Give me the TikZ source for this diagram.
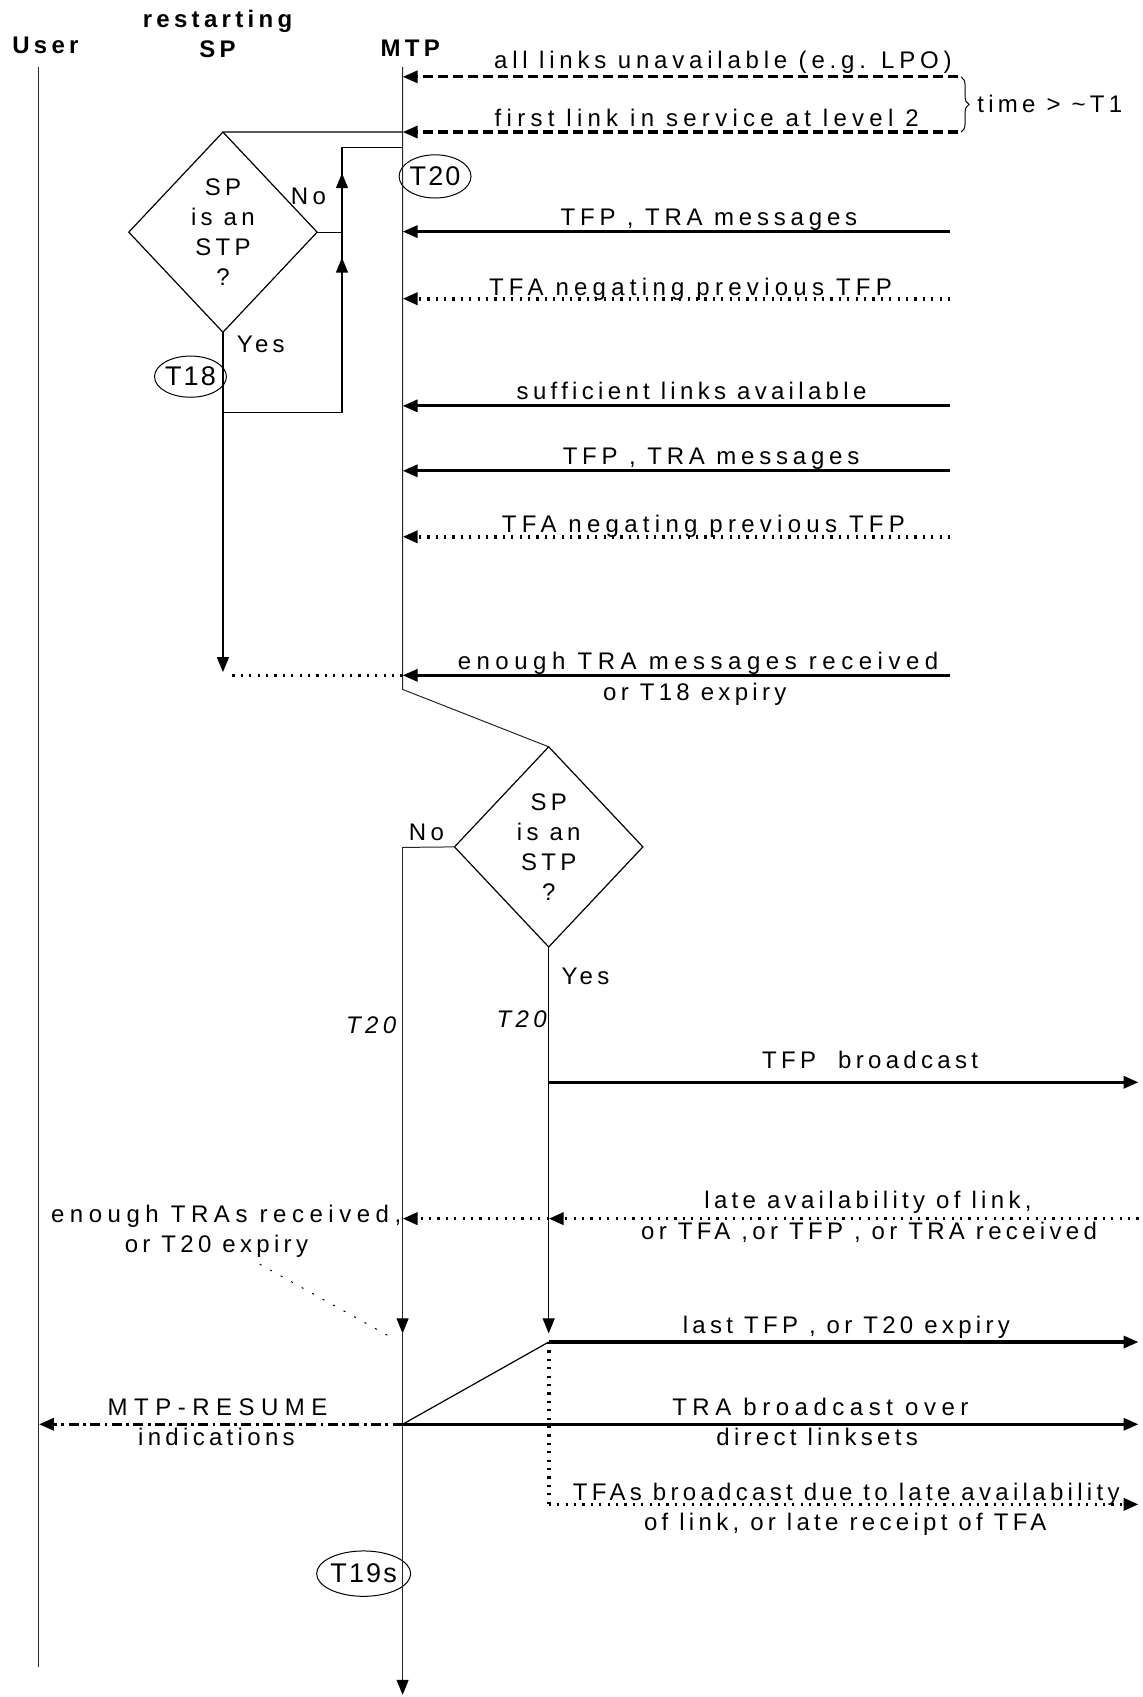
\documentclass[tikz,border=0pt]{standalone}
\usepackage{fontspec}
\setmainfont{Liberation Sans}[LetterSpace=18]
\newfontfamily\lsa{Liberation Sans}[LetterSpace=20]
\newfontfamily\lsb{Liberation Sans}[LetterSpace=22]
\newfontfamily\lsc{Liberation Sans}[LetterSpace=23]
\newfontfamily\lsd{Liberation Sans}[LetterSpace=27]
\newfontfamily\lse{Liberation Sans}[LetterSpace=8]
\usetikzlibrary{arrows.meta,shapes.geometric,decorations.pathreplacing}
\begin{document}
\begin{tikzpicture}[x=0.5412pt,y=-0.5412pt,
  every node/.style={font=\fontsize{12}{15}\selectfont, inner sep=0pt, outer sep=0pt},
  life/.style={line width=0.5pt, draw=black!85},
  thinln/.style={line width=0.6pt},
  msg/.style={line width=1.6pt},
  tip/.style={-{Triangle[length=7.5pt,width=6pt,color=black]}},
  dots/.style={line width=1.8pt, dash pattern=on 1.1pt off 3.1pt},
  dashes/.style={line width=1.6pt, dash pattern=on 5pt off 2.5pt},
  dashdot/.style={line width=1.6pt, dash pattern=on 5pt off 2.2pt on 1.4pt off 2.2pt},
  lbl/.style={anchor=base},
  hdr/.style={anchor=base, font=\fontsize{12}{14}\selectfont\bfseries},
  dec/.style={diamond, draw, line width=0.6pt, minimum width=94.2pt, minimum height=100.1pt, align=center, font=\fontsize{12}{15}\selectfont},
  tmr/.style={ellipse, draw, line width=0.5pt, font=\fontsize{13.5}{15}\lse}
]
\useasboundingbox (0,0) rectangle (1056,1568);

% headers
\node[hdr] (hUser) at (42,49) {User};
\node[hdr] (hRes) at (201,25) {restarting};
\node[hdr] (hSP) at (201,53) {SP};
\node[hdr] (hMTP) at (379,52) {MTP};

% coordinates on lifelines
\coordinate (uTop) at (36,62);
\coordinate (uBot) at (36,1540);
\coordinate (mTop) at (372,62);
\coordinate (m1) at (372,71);
\coordinate (m2) at (372,122);
\coordinate (mLoop) at (372,136);
\coordinate (m3) at (372,214);
\coordinate (m4) at (372,276);
\coordinate (m5) at (372,375);
\coordinate (m6) at (372,435);
\coordinate (m7) at (372,496);
\coordinate (m8) at (372,624);
\coordinate (mBend) at (372,637);
\coordinate (mNo) at (372,783);
\coordinate (mL) at (372,1126);
\coordinate (mArr) at (372,1232);
\coordinate (mR) at (372,1316);
\coordinate (mEnd) at (372,1566);
\coordinate (uR) at (36,1316);

\coordinate (r1) at (885,71);
\coordinate (r2) at (885,122);
\coordinate (r3) at (878,214);
\coordinate (r4) at (878,276);
\coordinate (r5) at (878,375);
\coordinate (r6) at (878,435);
\coordinate (r7) at (878,496);
\coordinate (r8) at (878,624);

% decision nodes
\node[dec] (d1) at (206,214.5) {SP\\is an\\STP\\?};
\node[dec] (d2) at (507,782.5) {SP\\is an\\STP\\?};

% timers
\node[tmr, minimum width=32.5pt, minimum height=21.6pt] (t20) at (402,163) {T20};
\node[tmr, minimum width=34.6pt, minimum height=20.6pt] (t18) at (176,348) {T18};
\node[tmr, minimum width=37.9pt, minimum height=22.7pt] (t19) at (336,1454) {T19s};

% lifelines
\draw[life] (uTop) -- (uBot);
\draw[life] (mTop) -- (mBend) -- (d2.north);
\draw[life] (d2.west) -- (mNo);
\draw[life,tip] (mNo) -- (mArr);
\draw[life,tip] (mArr) -- (mEnd);

% top messages
\draw[dashes,tip] (r1) -- (m1);
\draw[dashes,tip] (r2) -- (m2);
\node[lbl, font=\fontsize{12}{15}\lsa] (l1) at (668,63) {all links unavailable (e.g. LPO)};
\node[lbl, font=\fontsize{12}{15}\lsb] (l2) at (653,117) {first link in service at level 2};
\draw[line width=0.5pt, decorate, decoration={brace, amplitude=4pt}] (888,71) -- (888,122);
\node[anchor=base west] (ltime) at (903,104) {time > \textasciitilde T1};

% first decision
\draw[thinln] (m2) -- (d1.north);
\coordinate (lpJ) at (316,214.5);
\coordinate (lpB) at (316,381);
\coordinate (lpT) at (316,136);
\coordinate (ysJ) at (206,381);
\coordinate (ysA) at (206,621);
\coordinate (ysD) at (214,624);
\coordinate (lpA1s) at (316,262);
\coordinate (lpA1e) at (316,238);
\coordinate (lpA2s) at (316,184);
\coordinate (lpA2e) at (316,160);
\draw[thinln] (d1.east) -- (lpJ);
\draw[thinln] (ysJ) -- (lpB) -- (lpT) -- (mLoop);
\draw[thinln,tip] (lpA1s) -- (lpA1e);
\draw[thinln,tip] (lpA2s) -- (lpA2e);
\draw[thinln,tip] (d1.south) -- (ysA);
\node[lbl] (no1) at (285,189) {No};
\node[lbl] (yes1) at (241,326) {Yes};

% messages into MTP
\draw[msg,tip] (r3) -- (m3);
\node[lbl, font=\fontsize{12}{15}\lsa] (l3) at (655,208) {TFP , TRA messages};
\draw[dots,tip] (r4) -- (m4);
\node[lbl, font=\fontsize{12}{15}\lsb] (l4) at (638,273) {TFA negating previous TFP};
\draw[msg,tip] (r5) -- (m5);
\node[lbl] (l5) at (639,369) {sufficient links available};
\draw[msg,tip] (r6) -- (m6);
\node[lbl, font=\fontsize{12}{15}\lsa] (l6) at (657,429) {TFP , TRA messages};
\draw[dots,tip] (r7) -- (m7);
\node[lbl, font=\fontsize{12}{15}\lsb] (l7) at (650,492) {TFA negating previous TFP};
\draw[msg,tip] (r8) -- (m8);
\draw[dots] (m8) -- (ysD);
\node[lbl, font=\fontsize{12}{15}\lsc] (l8a) at (645,619) {enough TRA messages received};
\node[lbl] (l8b) at (642,647) {or T18 expiry};

% second decision
\node[lbl] (no2) at (394,777) {No};
\node[lbl] (yes2) at (541,910) {Yes};
\node[lbl, font=\fontsize{12}{15}\selectfont\itshape] (t20a) at (343,955) {T20};
\node[lbl, font=\fontsize{12}{15}\selectfont\itshape] (t20b) at (482,949) {T20};

\coordinate (yB) at (507,1000);
\coordinate (yL) at (507,1126);
\coordinate (yA) at (507,1232);
\coordinate (yC) at (507,1240);
\coordinate (yD) at (507,1390);
\coordinate (rB) at (1052,1000);
\coordinate (rL) at (1052,1126);
\coordinate (rC) at (1052,1240);
\coordinate (rR) at (1052,1316);
\coordinate (rD) at (1052,1390);
\coordinate (nS) at (240,1168);
\coordinate (nE) at (362,1236);

\draw[thinln,tip] (d2.south) -- (yA);
\draw[msg,tip] (yB) -- (rB);
\node[lbl] (lB) at (804,987) {TFP\ \ broadcast};
\draw[dots,tip] (rL) -- (yL);
\draw[dots,tip] (yL) -- (mL);
\node[lbl] (lLa) at (802,1117) {late availability of link,};
\node[lbl] (lLb) at (803,1145) {or TFA ,or TFP , or TRA received};
\node[lbl, font=\fontsize{12}{15}\lsc] (lEa) at (209,1130) {enough TRAs received,};
\node[lbl] (lEb) at (200,1157) {or T20 expiry};
\draw[line width=0.5pt, dash pattern=on 1pt off 5pt] (nS) -- (nE);
\draw[msg,tip] (yC) -- (rC);
\node[lbl] (lC) at (782,1232) {last TFP , or T20 expiry};
\draw[thinln] (mR) -- (yC);
\draw[dots] (yC) -- (yD);
\draw[dots,tip] (yD) -- (rD);
\node[lbl] (lDa) at (782,1386) {TFAs broadcast due to late availability};
\node[lbl] (lDb) at (781,1414) {of link, or late receipt of TFA};
\draw[msg,tip] (mR) -- (rR);
\node[lbl, font=\fontsize{12}{15}\lsc] (lRa) at (758,1308) {TRA broadcast over};
\node[lbl] (lRb) at (755,1336) {direct linksets};
\draw[dashdot,tip] (mR) -- (uR);
\node[lbl, font=\fontsize{12}{15}\lsd] (lMa) at (201,1308) {MTP-RESUME};
\node[lbl] (lMb) at (200,1336) {indications};
\end{tikzpicture}
\end{document}
